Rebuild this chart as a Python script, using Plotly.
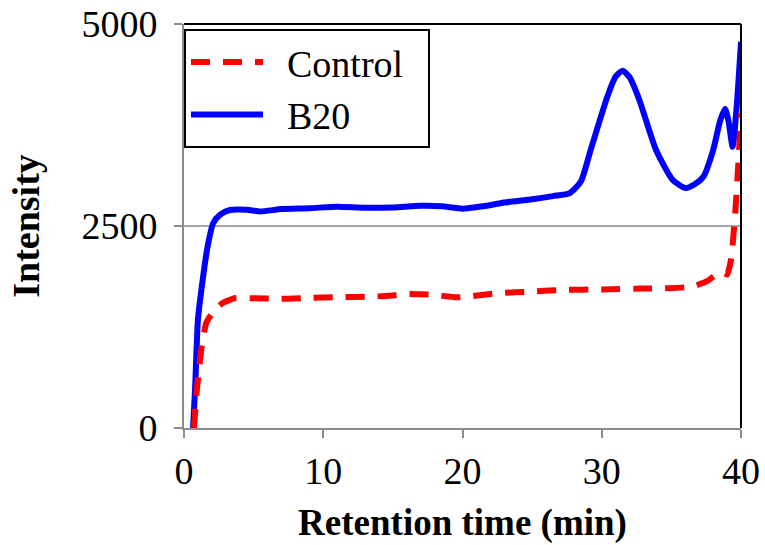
import plotly.graph_objects as go

# Retention time (min) and intensity values
b20_time = [0.65, 0.8, 1.0, 1.34, 1.7, 2.1, 2.6, 3.3, 4.5, 5.5, 7, 9, 11, 13, 15, 17,
            18.5, 20, 21.5, 23, 25, 26.5, 27.7, 28.5, 29.2, 30.4, 31.0, 31.5, 32.0,
            32.7, 33.9, 35.1, 36.0, 36.7, 37.3, 38.0, 38.5, 38.85, 39.1, 39.4, 39.7, 40]
b20_val = [0, 500, 1336, 1830, 2250, 2537, 2640, 2698, 2700, 2680, 2710, 2720, 2739,
           2725, 2730, 2750, 2745, 2715, 2745, 2790, 2830, 2870, 2908, 3050, 3440,
           4100, 4350, 4422, 4340, 4060, 3440, 3070, 2970, 3020, 3110, 3440, 3800,
           3950, 3800, 3480, 4000, 4780]

control_time = [0.72, 0.9, 1.27, 1.6, 2.1, 2.8, 3.7, 5, 7, 9, 11, 13.4, 15, 16, 17.7,
                19.6, 20.3, 22.7, 24.8, 27, 30, 33, 34.7, 36.5, 37.6, 38.2, 38.6, 39.0,
                39.3, 39.6, 39.8, 40]
control_val = [0, 433, 1006, 1300, 1440, 1550, 1609, 1605, 1600, 1610, 1620, 1625, 1640,
               1658, 1650, 1617, 1625, 1670, 1687, 1708, 1715, 1725, 1730, 1750, 1820,
               1900, 1930, 1900, 2100, 2700, 3250, 3900]

x_ticks = [0, 10, 20, 30, 40]
y_ticks = [0, 2500, 5000]

FONT = "Liberation Serif"
NB = "\u00a0"

fig = go.Figure()
fig.add_trace(go.Scatter(
    x=b20_time, y=b20_val, mode="lines", name=NB * 2 + "B20", legendrank=2,
    line=dict(color="#0000ff", width=6, shape="spline", smoothing=0.6),
))
fig.add_trace(go.Scatter(
    x=control_time, y=control_val, mode="lines", name=NB * 2 + "Control" + NB * 2,
    legendrank=1,
    line=dict(color="#ff0000", width=6, dash="19px,13px", shape="spline", smoothing=0.5),
))

axis_common = dict(
    showline=True, linecolor="#8c8c8c", linewidth=2,
    ticks="outside", tickcolor="#8c8c8c", ticklen=8, tickwidth=2,
    tickfont=dict(family=FONT, size=38, color="black"),
    zeroline=False, automargin=False,
)

fig.update_layout(
    width=765, height=545, autosize=False,
    margin=dict(l=184, r=24, t=24, b=117),
    plot_bgcolor="white", paper_bgcolor="white",
    font=dict(family=FONT, color="black"),
    xaxis=dict(range=[0, 40], tickvals=x_ticks, showgrid=False,
               title=dict(text="<b>Retention time (min)</b>",
                          font=dict(family=FONT, size=37), standoff=19),
               **axis_common),
    yaxis=dict(range=[0, 5000], tickvals=y_ticks, showgrid=True,
               gridcolor="#a6a6a6", gridwidth=2, ticklabelstandoff=9,
               title=dict(text="<b>Intensity</b>",
                          font=dict(family=FONT, size=38), standoff=30),
               **axis_common),
    legend=dict(
        x=0.0, y=0.988, xanchor="left", yanchor="top",
        bgcolor="white", bordercolor="black", borderwidth=2,
        font=dict(family=FONT, size=38, color="black"),
        itemwidth=72, tracegroupgap=0,
    ),
    showlegend=True,
    shapes=[
        dict(type="line", xref="paper", yref="paper", x0=0, x1=1, y0=1, y1=1,
             line=dict(color="black", width=2)),
        dict(type="line", xref="paper", yref="paper", x0=1, x1=1, y0=0, y1=1,
             line=dict(color="black", width=2)),
    ],
)

fig.write_html("out.html", config={"displayModeBar": False},
               post_script="document.body.style.margin='0';")
